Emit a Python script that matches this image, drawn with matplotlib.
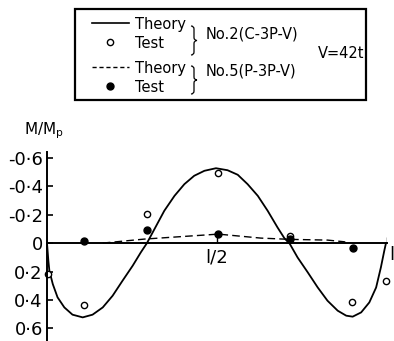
import numpy as np
import matplotlib
matplotlib.use("Agg")
import matplotlib.pyplot as plt
from matplotlib.patches import Rectangle, PathPatch
from matplotlib.path import Path

# theory curve No.2 (C-3P-V): x as fraction of l, M/Mp
theory2_x = [0.0, 0.004, 0.007, 0.017, 0.031, 0.051, 0.075, 0.105, 0.134, 0.164,
             0.193, 0.222, 0.252, 0.276, 0.294, 0.316, 0.345, 0.375, 0.404, 0.433,
             0.463, 0.497, 0.531, 0.561, 0.590, 0.620, 0.649, 0.678, 0.698, 0.714,
             0.737, 0.767, 0.796, 0.825, 0.855, 0.880, 0.899, 0.924, 0.948, 0.968,
             0.982, 0.992, 0.997]
theory2_m = [0.0, 0.124, 0.194, 0.288, 0.381, 0.452, 0.503, 0.522, 0.503, 0.452,
             0.370, 0.265, 0.159, 0.065, 0.0, -0.098, -0.227, -0.332, -0.414, -0.473,
             -0.508, -0.526, -0.512, -0.480, -0.414, -0.332, -0.227, -0.110, -0.035, 0.005,
             0.101, 0.206, 0.311, 0.405, 0.475, 0.510, 0.517, 0.487, 0.417, 0.312,
             0.171, 0.054, 0.0]

# theory curve No.5 (P-3P-V)
theory5_x = [0.164, 0.286, 0.504, 0.629, 0.716, 0.825, 0.875, 0.879]
theory5_m = [0.0, -0.028, -0.063, -0.035, -0.026, -0.021, -0.009, 0.0]

# test points
test2_x = [0.004, 0.108, 0.294, 0.502, 0.715, 0.896, 0.997]
test2_m = [0.218, 0.435, -0.204, -0.491, -0.051, 0.412, 0.269]
test5_x = [0.110, 0.293, 0.504, 0.716, 0.899]
test5_m = [-0.014, -0.091, -0.061, -0.028, 0.037]

yticks = [-0.6, -0.4, -0.2, 0.0, 0.2, 0.4, 0.6]
ytick_labels = ["-0·6", "-0·4", "-0·2", "0", "0·2", "0·4", "0·6"]
xmarks = [0.5, 1.0]

W, H = 394, 341
fig = plt.figure(figsize=(W / 100, H / 100), dpi=100)
ax = fig.add_axes([47 / W, 0, 340 / W, (H - 152) / H])
ax.set_xlim(0, 1)
ax.set_ylim(0.688, -0.64)

for s in ["top", "right", "bottom"]:
    ax.spines[s].set_visible(False)
ax.spines["left"].set_linewidth(1.4)
ax.set_xticks([])
ax.set_yticks(yticks)
ax.set_yticklabels(ytick_labels, fontsize=13)
ax.tick_params(axis="y", direction="in", length=4, width=1.2, pad=3)

ax.plot([0, 1], [0, 0], color="black", lw=1.4, clip_on=False)
ax.vlines(xmarks, 0, -0.045, color="black", lw=1.0)

ax.plot(theory2_x, theory2_m, color="black", lw=1.3, clip_on=False)
ax.plot(theory5_x, theory5_m, color="black", lw=1.0, linestyle=(0, (5.5, 3)))
ax.plot(test2_x, test2_m, "o", mfc="white", mec="black", ms=4.5, mew=1.0, clip_on=False)
ax.plot(test5_x, test5_m, "o", color="black", ms=5, clip_on=False)

ax.text(0.5, 0.1, "l/2", fontsize=13, ha="center", va="center")
ax.text(1.008, 0.085, "l", fontsize=13, ha="left", va="center", clip_on=False)
fig.text(44 / W, 1 - 131 / H, "M/M$_\\mathregular{p}$", fontsize=11, ha="center", va="center")

# legend box in pixel coordinates
lax = fig.add_axes([0, 0, 1, 1])
lax.set_xlim(0, W)
lax.set_ylim(H, 0)
lax.axis("off")


def brace(x, y0, y1):
    ym = (y0 + y1) / 2
    verts = [(x - 3, y0), (x, y0), (x, y0 + 3),
             (x, ym - 3),
             (x, ym), (x + 3, ym),
             (x, ym), (x, ym + 3),
             (x, y1 - 3),
             (x, y1), (x - 3, y1)]
    codes = [Path.MOVETO, Path.CURVE3, Path.CURVE3,
             Path.LINETO,
             Path.CURVE3, Path.CURVE3,
             Path.CURVE3, Path.CURVE3,
             Path.LINETO,
             Path.CURVE3, Path.CURVE3]
    lax.add_patch(PathPatch(Path(verts, codes), fill=False, lw=0.9, ec="black"))


lax.add_patch(Rectangle((75, 9), 291, 91, fill=False, lw=1.6, ec="black"))
lax.plot([92, 129], [23, 23], color="black", lw=1.2)
lax.plot([110], [42], "o", mfc="white", mec="black", ms=4.5, mew=1.0)
lax.plot([92, 129], [67, 67], color="black", lw=1.0, linestyle=(0, (3, 2)))
lax.plot([110], [86], "o", color="black", ms=5)
fs = 10.5
lax.text(135, 24, "Theory", fontsize=fs, va="center")
lax.text(135, 43, "Test", fontsize=fs, va="center")
lax.text(135, 68, "Theory", fontsize=fs, va="center")
lax.text(135, 87, "Test", fontsize=fs, va="center")
brace(194, 26, 55)
brace(194, 66, 94)
lax.text(206, 34, "No.2(C-3P-V)", fontsize=fs, va="center")
lax.text(206, 71, "No.5(P-3P-V)", fontsize=fs, va="center")
lax.text(318, 54, "V=42t", fontsize=fs, va="center")

fig.savefig("out.png", dpi=100)
